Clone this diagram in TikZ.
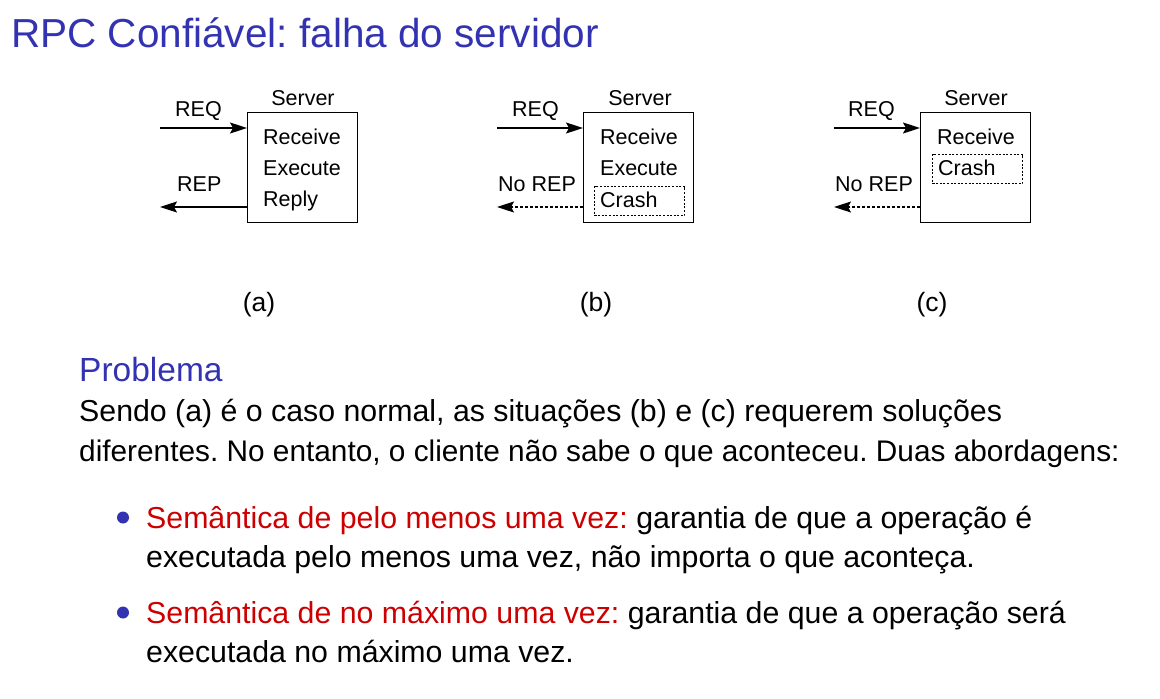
\documentclass[tikz,border=0pt]{standalone}
\usepackage{fontspec}
\setmainfont{Liberation Sans}
\usetikzlibrary{arrows.meta,positioning}
\definecolor{structblue}{RGB}{51,51,178}
\definecolor{alertred}{RGB}{204,0,0}
\newcommand{\fs}[1]{\fontsize{#1}{#1}\selectfont}
\frenchspacing

\begin{document}
\begin{tikzpicture}[x=1pt,y=-1pt,
  srv/.style={draw,line width=1.2pt,minimum width=110pt,minimum height=110pt,inner sep=0pt,anchor=north west},
  crashbox/.style={draw,line width=1pt,dash pattern=on 2pt off 1.6pt,minimum width=90pt,minimum height=29pt,inner sep=0pt,anchor=north west},
  lab/.style={font=\fs{21.5},inner sep=0pt,anchor=base west},
  sublab/.style={font=\fs{26.5},inner sep=0pt,anchor=base},
  txt/.style={font=\fs{30.3},inner sep=0pt,anchor=base west},
  arr/.style={-{Stealth[length=17pt,width=11pt,inset=3pt]},line width=1.3pt},
  noarr/.style={arr,dash pattern=on 3pt off 2pt,line width=1.1pt},
  dot/.style={circle,fill=structblue,minimum size=12pt,inner sep=0pt}]
\useasboundingbox (0,0) rectangle (1160,699);
% title
\node[font=\fs{40.5},text=structblue,inner sep=0pt,anchor=base west] (title) at (11,47) {RPC Confiável: falha do servidor};
% (a) normal case
\node[srv] (sa) at (247,112) {};
\node[lab,anchor=base] (sa-name) at (303,105) {Server};
\node[lab] at (263,144) {Receive};
\node[lab] at (263,175.5) {Execute};
\node[lab] at (263,206.5) {Reply};
\coordinate (qa) at (160,128);
\coordinate (pa) at (160,207);
\draw[arr] (qa) -- (sa.west |- qa);
\draw[arr] (sa.west |- pa) -- (pa);
\node[lab] at (175,116.7) {REQ};
\node[lab] at (177,191.7) {REP};
\node[sublab] (ca) at (259,311.7) {(a)};
% (b) crash after execute
\node[srv] (sb) at (583,112) {};
\node[lab,anchor=base] (sb-name) at (640,105) {Server};
\node[lab] at (600,144) {Receive};
\node[lab] at (600,175.5) {Execute};
\node[crashbox] (kb) at (594,186) {};
\node[lab] at (600,207.5) {Crash};
\coordinate (qb) at (497,128);
\coordinate (pb) at (497,207);
\draw[arr] (qb) -- (sb.west |- qb);
\draw[noarr] (sb.west |- pb) -- (pb);
\node[lab] at (512,116.7) {REQ};
\node[lab] at (498,191.7) {No REP};
\node[sublab] (cb) at (596,311.7) {(b)};
% (c) crash before execute
\node[srv] (sc) at (920,112) {};
\node[lab,anchor=base] (sc-name) at (976,105) {Server};
\node[lab] at (937,144) {Receive};
\node[crashbox] (kc) at (932,154) {};
\node[lab] at (938,175) {Crash};
\coordinate (qc) at (834,128);
\coordinate (pc) at (834,207);
\draw[arr] (qc) -- (sc.west |- qc);
\draw[noarr] (sc.west |- pc) -- (pc);
\node[lab] at (848,116.7) {REQ};
\node[lab] at (835,191.7) {No REP};
\node[sublab] (cc) at (932,311.7) {(c)};
% problem text
\node[txt,font=\fs{33.5},text=structblue] (prob) at (79,381.7) {Problema};
\node[txt] (body1) at (79,421.7) {Sendo (a) é o caso normal, as situações (b) e (c) requerem soluções};
\node[txt,font=\fs{29.8}] (body2) at (79,461.7) {diferentes. No entanto, o cliente não sabe o que aconteceu. Duas abordagens:};
\node[dot] (b1) at (123,517.5) {};
\node[txt] (item1a) at (146,528) {\textcolor{alertred}{Semântica de pelo menos uma vez:} garantia de que a operação é};
\node[txt] (item1b) at (146,567) {executada pelo menos uma vez, não importa o que aconteça.};
\node[dot] (b2) at (123,612.5) {};
\node[txt] (item2a) at (146,623) {\textcolor{alertred}{Semântica de no máximo uma vez:} garantia de que a operação será};
\node[txt] (item2b) at (146,662) {executada no máximo uma vez.};
\end{tikzpicture}
\end{document}
